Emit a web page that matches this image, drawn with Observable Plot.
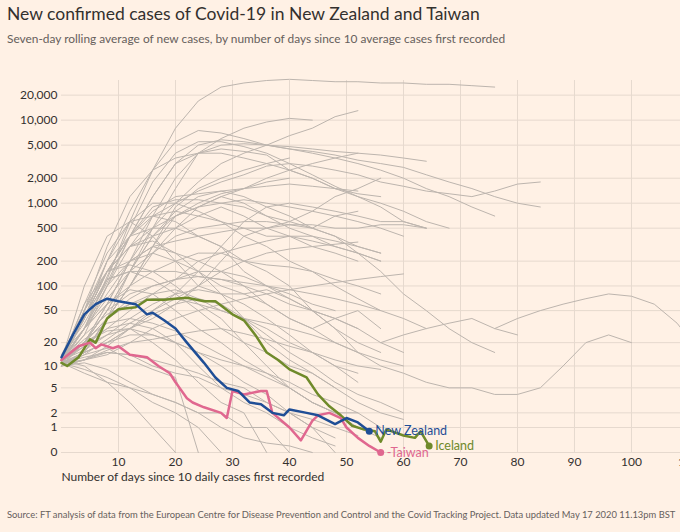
<!DOCTYPE html>
<html><head><meta charset="utf-8">
<script src="https://cdn.jsdelivr.net/npm/d3@7"></script>
<script src="https://cdn.jsdelivr.net/npm/@observablehq/plot@0.6"></script>
<style>
body{margin:0;background:#fff1e5;font-family:Lato,"Noto Sans",sans-serif;width:680px;height:532px;overflow:hidden;position:relative}
#t{position:absolute;left:7px;top:3px;font-size:17.5px;color:#33302e}
#s{position:absolute;left:7px;top:31px;font-size:11.9px;color:#66605c}
#c{position:absolute;left:0;top:55px}
#src{position:absolute;left:7px;top:509px;font-size:9.4px;color:#66605c}
</style></head><body>
<div id="t">New confirmed cases of Covid-19 in New Zealand and Taiwan</div>
<div id="s">Seven-day rolling average of new cases, by number of days since 10 average cases first recorded</div>
<div id="c"></div>
<div id="src">Source: FT analysis of data from the European Centre for Disease Prevention and Control and the Covid Tracking Project. Data updated May 17 2020 11.13pm BST</div>
<script>
// grey comparison countries: [startDay, values every 4 days...]
const greyLines = [
[0,11,30,120,600,2500,8000,17000,25000,28000,30000,31000,30000,29000,29000,28000,28000,27000,27000,26000,25000],
[0,12,40,200,800,2500,5500,7500,7000,6000,5000,4500,4000,3500,3000,2500,2000,1500,1200,900,700],
[0,14,35,110,400,1200,3000,5000,5800,5500,5000,4500,4200,3800,3300,3000,2700,2200,1800,1500,1200,1000,900],
[0,12,20,60,200,700,2000,4000,5000,5200,5000,4800,4500,4200,4000,3800,3500,3200],
[0,12,30,130,500,1800,4000,5500,5500,4800,4000,3000,2200,1600,1200,1000,800,600,500],
[0,11,25,100,400,1200,3000,4000,4500,4200,3800,2500,2000,1500,1200,900,600,500],
[0,10,20,60,200,500,1000,1800,3000,4000,5000,6500,8000,11000,13000],
[0,10,15,40,150,500,1500,4000,6000,8000,9500,10500,10000],
[0,12,50,300,1200,2500,3500,4000,4000,3500,3000,2500,2000,1500,1400],
[0,12,30,100,300,700,1000,1400,1800,2200,2800,3000,2800,2500,2200,1800,1600,1400,1300,1200,1400,1700,1800],
[0,11,20,50,150,400,800,1200,1400,1500,1600,1700,1600,1500,1300,1200],
[0,12,40,150,400,800,1200,1300,1400,1200,900,700,500,400,300,250],
[0,12,40,150,400,900,1100,1100,1000,900,700,500,400,300,250,200],
[0,10,15,40,100,300,700,1000,1300,1500,2000,2500,3000,3500,4000],
[0,10,15,40,100,300,900,1500,2000,2500,3000,3500],
[0,14,50,200,600,1000,1000,800,600,400,300,200,150,100,70,50,40,30],
[0,11,30,70,150,250,400,500,550,600,600,550,550,500,500,550,550,500],
[0,11,40,150,400,700,800,700,600,500,400,400,350,300,250,200],
[0,12,60,250,600,700,600,400,300,150,100,70,50,40,30,20,15],
[0,10,15,40,100,250,500,900,1200,1500,1800,2000],
[0,11,15,20,30,40,60,100,200,400,500,550,500,400,250,150,80,50,30,20,15],
[0,12,100,400,600,400,200,100,80,80,90,70,50,30,15,10,8,6,5,5,4,4,5,10,20,25,20],
[0,10,15,20,30,50,80,150,300,600,900,1000,900,800,700,600,600,500],
[0,12,40,150,300,400,500,700,900,700,500,400,300,250,200],
[0,12,40,200,400,500,500,400,300,200,150,100,50,30,20,15],
[0,11,30,100,200,300,350,400,450,500,500,600,800,1200,1500,2000],
[0,12,50,150,300,500,700,900,1200,1000,700,600,500,700,800],
[0,12,30,60,100,150,200,250,250,200,180,170,150,120,100,80],
[0,12,60,150,200,250,200,150,100,80,60,40,30,20,15],
[0,12,40,150,300,350,250,150,80,40,20,12,8,5,3,2,1.5],
[0,12,30,80,200,300,250,200,150,100,80,60,50,40,30],
[0,12,50,150,180,150,150,130,120,100,60,40,30,40,50,30],
[0,11,20,50,80,100,120,150,150,130,100,80,60,50],
[0,11,20,40,60,80,90,70,50,40,30,20,15,10,8],
[0,12,40,120,150,120,80,50,30,20,10,5,3,2,2,1],
[0,11,8,6,5,4,3,2,1,0.5,0.3,0.2,0],
[0,12,20,30,35,30,20,10,5,3,2,1,0.5,0.2],
[0,12,40,120,150,150,100,60,40,20,15,10,8,5],
[0,12,10,6,3,1,0],
[0,11,15,20,25,25,20,15,10,6,4,2,1,0],
[0,10,12,18,30,45,60,70,60,40,25,15,10,6,4,3,2],
[0,11,20,40,70,100,120,130,120,110,100,90,80,70,60,50],
[0,12,25,45,60,70,70,60,50,40,35,30,25,20,15,12,10],
[0,11,18,30,50,80,120,200,250,300,350,400,400,350,300,250],
[0,10,14,22,35,50,70,100,150,200,250,280,300,320,340],
[0,11,13,15,14,12,10,8,6,5,3,2,1,0.5],
[0,12,16,25,40,60,80,90,80,60,40,25,15,10,6],
[0,10,12,14,20,30,40,50,60,70,80,90,100,110,120,130,140],
[0,11,9,7,5,3,2,1,0],
[0,13,20,28,30,25,20,15,12,10,8,6,4,3,2],
[0,14,30,60,90,80,50,30,20,12,8,5,3,2,1,0.5],
[0,10,12,16,20,22,25,28,30,26,22,18,15,12,10,9],
[0,12,22,35,40,35,28,20,14,10,7,5,3,2],
[0,10,11,9,6,4,3,2,2,1,1,0],
[0,11,12,15,14,10,8,7,5,4,3,2,1.5,1,0.6],
[0,10,20,50,150,400,700,900,1000,1100,1000,900,800,700,600,500,400],
[0,12,18,25,30,20,12,6,3,2,0],
[0,11,14,17,12,9,7,0],
[56,20,25,30,35,40,30,25],
[76,30,40,50,60,70,80,75,60,35,15]
];
const grey = [];
greyLines.forEach((s,i)=>{ s.slice(1).forEach((v,j)=>grey.push({id:i, day:s[0]+4*j, v})); });

const nzDays = [0,2,4,6,8,10,13,15,16,18,20,22,25,27,29,31,33,35,37,39,40,43,45,48,50,52,54];
const nzVals = [13,25,45,60,70,65,60,45,47,38,30,20,11,7,5,4.5,3,2.8,2,1.8,2.3,2,1.8,1.2,1.6,1.3,0.8];
const isDays = [0,1,3,5,6,8,10,13,15,18,20,22,25,27,30,32,34,36,38,40,43,45,47,49,51,53,55,56,57,60,62,63,64.5];
const isVals = [11,10,13,22,20,40,52,55,68,68,70,72,65,65,45,38,25,15,12,9,7,4,2.6,1.8,1.1,0.9,0.8,0.35,0.9,0.6,0.5,0.8,0.2];
const twDays = [0,3,5,6,7,9,10,12,15,17,19,20,22,23,25,28,29,30,32,35,36,37,40,42,44,45,47,49,50,52,54,56];
const twVals = [12,18,20,17,19,17,18,14,13,10,8,6,3.5,3,2.5,2,1.6,4.5,4,4.5,4.5,2.0,1.0,0.4,1.4,1.8,2,1.6,1.0,0.5,0.2,0];
const mk = (d,v)=>d.map((x,i)=>({day:x,v:v[i]}));
const nz = mk(nzDays,nzVals), ic = mk(isDays,isVals), tw = mk(twDays,twVals);
const yTicks = [0,1,2,5,10,20,50,100,200,500,1000,2000,5000,10000,20000];
const xTicks = [10,20,30,40,50,60,70,80,90,100,110];
const labels = [
 {day:nz.at(-1).day, v:nz.at(-1).v, t:"New Zealand", c:"#1f4e96"},
 {day:ic.at(-1).day, v:ic.at(-1).v, t:"Iceland", c:"#6f8a2a"},
 {day:tw.at(-1).day, v:tw.at(-1).v, t:"-Taiwan", c:"#e0678f"}
];
const chart = Plot.plot({
  width:680, height:440, marginLeft:61, marginRight:0, marginTop:25, marginBottom:43,
  style:{background:"transparent", fontFamily:"Lato, 'Noto Sans', sans-serif", fontSize:"12px", color:"#66605c"},
  x:{domain:[0,108.6], ticks:xTicks, tickSize:0, tickPadding:5, label:null},
  y:{type:"symlog", domain:[0,30000], ticks:yTicks, tickFormat:d3.format(","), tickSize:0, tickPadding:4, label:null},
  marks:[
    Plot.gridY(yTicks,{stroke:"#e6d9ce", strokeOpacity:1}),
    Plot.gridX(xTicks,{stroke:"#e6d9ce", strokeOpacity:1}),
    Plot.line(grey,{x:"day",y:"v",z:"id",stroke:"#bdb5ae",strokeWidth:1}),
    Plot.line(ic,{x:"day",y:"v",stroke:"#6f8a2a",strokeWidth:2.5}),
    Plot.line(tw,{x:"day",y:"v",stroke:"#e0678f",strokeWidth:2.5}),
    Plot.line(nz,{x:"day",y:"v",stroke:"#1f4e96",strokeWidth:2.5}),
    Plot.dot(labels,{x:"day",y:"v",fill:"c",r:3.5}),
    Plot.text(labels,{x:"day",y:"v",text:"t",fill:"c",textAnchor:"start",dx:6,fontSize:12.5}),
    Plot.text(["Number of days since 10 daily cases first recorded"],{frameAnchor:"bottom-left",dy:28,textAnchor:"start",fill:"#33302e",fontSize:12}),
    Plot.axisY({ticks:yTicks,tickFormat:d3.format(","),tickSize:0,tickPadding:4,label:null,fill:"#33302e"}),
    Plot.axisX({ticks:xTicks,tickSize:0,tickPadding:5,label:null,fill:"#33302e"})
  ]
});
document.getElementById("c").append(chart);
</script></body></html>
